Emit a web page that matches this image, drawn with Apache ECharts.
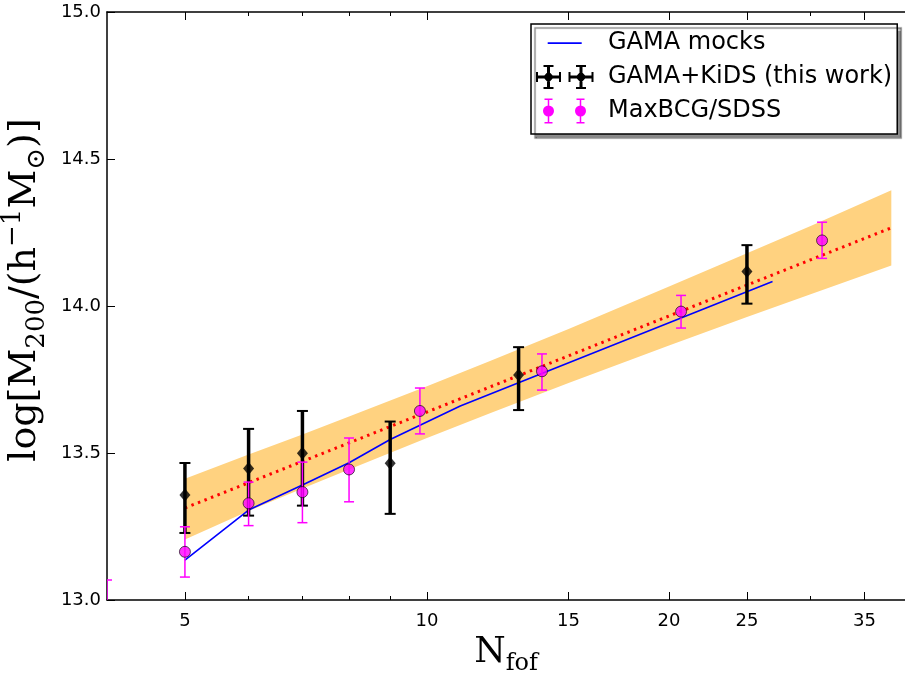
<!DOCTYPE html>
<html><head><meta charset="utf-8">
<script src="https://cdn.jsdelivr.net/npm/echarts@6/dist/echarts.min.js"></script>
<style>html,body{margin:0;padding:0;background:#fff}#c{width:905px;height:677px}</style>
</head><body><div id="c"></div>
<script>
// ---- data ----
const majorTicks = [5, 10, 15, 20, 25, 35];
const minorTicks = [6, 7, 8, 9, 30];
const yTicks = [13.0, 13.5, 14.0, 14.5, 15.0];

const mockN = [5, 6, 7, 8, 9, 11, 26.9];
const mockM = [13.136, 13.306, 13.391, 13.467, 13.546, 13.660, 14.083];

const fitN = [5, 37.8];
const fitM = [13.313, 14.266];

const bandN  = [5, 6, 7, 8, 10, 12, 15, 20, 25, 30, 37.8];
const bandLo = [13.206, 13.303, 13.379, 13.444, 13.551, 13.636, 13.738, 13.866, 13.963, 14.040, 14.138];
const bandHi = [13.412, 13.495, 13.563, 13.624, 13.727, 13.814, 13.922, 14.066, 14.179, 14.272, 14.394];

const kidsN  = [5, 6, 7, 9, 13, 25];
const kidsM  = [13.357, 13.447, 13.499, 13.465, 13.765, 14.117];
const kidsLo = [13.228, 13.287, 13.321, 13.293, 13.646, 14.008];
const kidsHi = [13.466, 13.582, 13.643, 13.607, 13.860, 14.207];

const bcgN  = [4, 5, 6, 7, 8, 9.8, 13.9, 20.7, 31];
const bcgM  = [12.97, 13.164, 13.329, 13.367, 13.444, 13.643, 13.778, 13.981, 14.223];
const bcgLo = [12.87, 13.078, 13.253, 13.263, 13.334, 13.565, 13.714, 13.925, 14.162];
const bcgHi = [13.068, 13.249, 13.401, 13.469, 13.551, 13.721, 13.837, 14.036, 14.285];

// ---- chart ----
const L = Math.log10;
const xMin = L(4), xMax = 1.5945;
const chart = echarts.init(document.getElementById('c'), null, {renderer: 'canvas'});

function errRender(color, lw, capW, capLw) {
  return function (params, api) {
    const x = api.value(0), lo = api.value(2), hi = api.value(3);
    const p0 = api.coord([x, lo]), p1 = api.coord([x, hi]);
    return {type: 'group', children: [
      {type: 'line', shape: {x1: p0[0], y1: p0[1], x2: p1[0], y2: p1[1]}, style: {stroke: color, lineWidth: lw}},
      {type: 'line', shape: {x1: p0[0] - capW / 2, y1: p0[1], x2: p0[0] + capW / 2, y2: p0[1]}, style: {stroke: color, lineWidth: capLw}},
      {type: 'line', shape: {x1: p1[0] - capW / 2, y1: p1[1], x2: p1[0] + capW / 2, y2: p1[1]}, style: {stroke: color, lineWidth: capLw}}
    ]};
  };
}

function crossPath(cx) {
  const c = 13;
  return `M${cx-12.5},${c-1.5}h25v3h-25z` +
    `M${cx-12.5},${c-5}h2v10h-2z M${cx+10.5},${c-5}h2v10h-2z` +
    `M${cx-1.5},1h3v24h-3z M${cx-5},1h10v2h-10z M${cx-5},23h10v2h-10z` +
    `M${cx},${c-6}L${cx+5.5},${c}L${cx},${c+6}L${cx-5.5},${c}z`;
}
function circPath(cx) {
  const c = 13, r = 5.5;
  return `M${cx-0.75},0.5h1.5v25h-1.5z M${cx-4},0.5h8v1.5h-8z M${cx-4},24h8v1.5h-8z` +
    `M${cx+r},${c}A${r},${r} 0 1,1 ${cx-r},${c}A${r},${r} 0 1,1 ${cx+r},${c}z`;
}
const iconLine = 'path://M0,0 M58,26 M11.7,12.3h34v1.6h-34z';
const iconKids = 'path://M0,0 M58,26 ' + crossPath(12.5) + ' ' + crossPath(45);
const iconBcg = 'path://M0,0 M58,26 ' + circPath(12.5) + ' ' + circPath(44.5);

const axisBlack = {lineStyle: {color: '#000', width: 1.5}};
const tickFont = {fontFamily: 'DejaVu Sans', fontSize: 18, color: '#000'};
const serif = 'DejaVu Serif';

const option = {
  animation: false,
  backgroundColor: '#fff',
  grid: {left: 107, right: 0, top: 12, bottom: 77, containLabel: false, outerBoundsMode: 'none'},
  legend: {
    orient: 'vertical', left: 531, top: 24, padding: [6, 5, 10, 5], itemGap: 8,
    itemWidth: 58, itemHeight: 26, selectedMode: false,
    backgroundColor: '#fff', borderColor: '#000', borderWidth: 1.5, borderRadius: 0,
    shadowColor: 'rgba(0,0,0,0.45)', shadowBlur: 1, shadowOffsetX: 4, shadowOffsetY: 4,
    textStyle: {fontFamily: 'DejaVu Sans', fontSize: 24, color: '#000', padding: [0, 0, 0, 9]},
    data: [
      {name: 'GAMA mocks', icon: iconLine, itemStyle: {color: '#0000ff', borderWidth: 0, opacity: 1}},
      {name: 'GAMA+KiDS (this work)', icon: iconKids, itemStyle: {color: '#000000', borderWidth: 0, opacity: 1}},
      {name: 'MaxBCG/SDSS', icon: iconBcg, itemStyle: {color: '#ff00ff', borderWidth: 0, opacity: 1}}
    ]
  },
  xAxis: [
    {type: 'value', min: xMin, max: xMax, position: 'bottom', axisLine: axisBlack,
     axisTick: {inside: true, length: 8, customValues: majorTicks.map(L), lineStyle: {color: '#000', width: 1}},
     axisLabel: Object.assign({customValues: majorTicks.map(L), margin: 12,
       formatter: v => String(Math.round(Math.pow(10, v)))}, tickFont),
     splitLine: {show: false},
     name: '{b|N}{s|fof}', nameLocation: 'middle', nameGap: 30,
     nameTextStyle: {rich: {
       b: {fontFamily: serif, fontSize: 36, lineHeight: 46, verticalAlign: 'middle', color: '#000'},
       s: {fontFamily: serif, fontSize: 24, lineHeight: 24, verticalAlign: 'bottom', color: '#000'}}}},
    {type: 'value', min: xMin, max: xMax, position: 'bottom', axisLine: {show: false},
     axisTick: {inside: true, length: 4, customValues: minorTicks.map(L), lineStyle: {color: '#000', width: 1}},
     axisLabel: {show: false}, splitLine: {show: false}},
    {type: 'value', min: xMin, max: xMax, position: 'top', axisLine: axisBlack,
     axisTick: {inside: true, length: 8, customValues: majorTicks.map(L), lineStyle: {color: '#000', width: 1}},
     axisLabel: {show: false}, splitLine: {show: false}},
    {type: 'value', min: xMin, max: xMax, position: 'top', axisLine: {show: false},
     axisTick: {inside: true, length: 4, customValues: minorTicks.map(L), lineStyle: {color: '#000', width: 1}},
     axisLabel: {show: false}, splitLine: {show: false}}
  ],
  yAxis: [
    {type: 'value', min: 13, max: 15, position: 'left', axisLine: axisBlack,
     axisTick: {inside: true, length: 8, customValues: yTicks, lineStyle: {color: '#000', width: 1}},
     axisLabel: Object.assign({customValues: yTicks, margin: 6, formatter: v => v.toFixed(1)}, tickFont),
     splitLine: {show: false},
     name: '{b|log[M}{s|200}{b|/(h}{p|−1}{b|M}{s|⊙}{b|)]}', nameLocation: 'middle', nameGap: 49, nameRotate: 90,
     nameTextStyle: {padding: [0, 0, 0, 32], rich: {
       b: {fontFamily: serif, fontSize: 38, lineHeight: 50, verticalAlign: 'middle', color: '#000'},
       s: {fontFamily: serif, fontSize: 26, lineHeight: 25, verticalAlign: 'bottom', color: '#000'},
       p: {fontFamily: serif, fontSize: 26, lineHeight: 25, verticalAlign: 'top', color: '#000'}}}}
  ],
  series: [
    {name: 'band', type: 'custom', xAxisIndex: 0, yAxisIndex: 0, z: 1, clip: true, silent: true,
     data: bandN.map((n, i) => [L(n), bandLo[i], bandHi[i]]),
     encode: {x: 0, y: [1, 2]},
     renderItem: function (params, api) {
       if (params.dataIndex !== 0) return null;
       const top = bandN.map((n, i) => api.coord([L(n), bandHi[i]]));
       const bot = bandN.map((n, i) => api.coord([L(n), bandLo[i]])).reverse();
       return {type: 'polygon', shape: {points: top.concat(bot)}, style: {fill: '#ffd280'}};
     }},
    {name: 'GAMA mocks', type: 'line', z: 2, symbol: 'none', showSymbol: false,
     data: mockN.map((n, i) => [L(n), mockM[i]]),
     lineStyle: {color: '#0000ff', width: 1.6}, itemStyle: {color: '#0000ff'}},
    {name: 'fit', type: 'line', z: 3, symbol: 'none', showSymbol: false,
     data: fitN.map((n, i) => [L(n), fitM[i]]),
     lineStyle: {color: '#ff0000', width: 3, type: [2.5, 4.5]}},
    {name: 'kidsErr', type: 'custom', z: 4, clip: true,
     data: kidsN.map((n, i) => [L(n), kidsM[i], kidsLo[i], kidsHi[i]]),
     encode: {x: 0, y: [1, 2, 3]},
     renderItem: errRender('#000', 3.5, 11, 2)},
    {name: 'GAMA+KiDS (this work)', type: 'scatter', z: 5, symbol: 'diamond', symbolSize: [11, 13],
     data: kidsN.map((n, i) => [L(n), kidsM[i]]), itemStyle: {color: '#000'}},
    {name: 'bcgErr', type: 'custom', z: 6, clip: true,
     data: bcgN.map((n, i) => [L(n), bcgM[i], bcgLo[i], bcgHi[i]]),
     encode: {x: 0, y: [1, 2, 3]},
     renderItem: errRender('#ff00ff', 1.5, 10, 1.5)},
    {name: 'MaxBCG/SDSS', type: 'scatter', z: 7, symbol: 'circle', symbolSize: 11, clip: true,
     data: bcgN.map((n, i) => [L(n), bcgM[i]]),
     itemStyle: {color: '#ff00ff', borderColor: '#000', borderWidth: 0.8}}
  ]
};
chart.setOption(option);
</script></body></html>
